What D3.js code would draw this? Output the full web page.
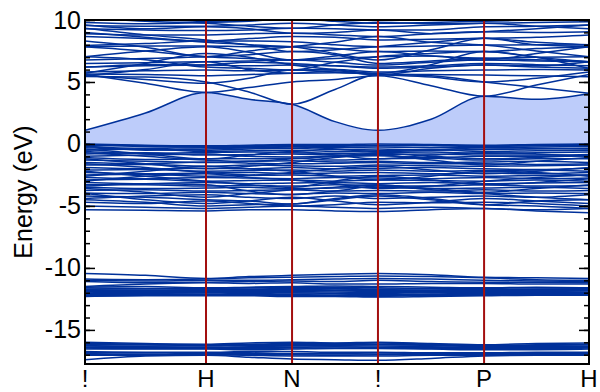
<!DOCTYPE html>
<html>
<head>
<meta charset="utf-8">
<script src="https://cdn.jsdelivr.net/npm/d3@7"></script>
<style>
  body { margin: 0; background: #fff; }
  text { font-family: "Liberation Sans", Arial, Helvetica, sans-serif; }
</style>
</head>
<body>
<svg id="chart" width="600" height="392"></svg>
<script>
// k-path: sample points (symmetry points + segment midpoints)
const kGrid = [0, 0.5, 1, 1.355, 1.711, 2.066, 2.421, 2.86, 3.298, 3.73, 4.165];
const kSym = [0, 1, 1.711, 2.421, 3.298, 4.165];
const kLabels = ["!", "H", "N", "!", "P", "H"];
const yTicks = [-15, -10, -5, 0, 5, 10];

// lowest conduction band (top edge of the gap fill)
const cbMin = [1.1, 2.5, 4.15, 3.6, 3.2, 1.8, 1.1, 2.0, 3.85, 3.6, 4.05];
// valence band maximum (bottom edge of the gap fill)
const vbMax = [0, -0.1, -0.15, -0.1, -0.05, -0.05, 0, -0.05, -0.1, -0.05, 0];

const conduction = [
  cbMin,
  [5.6, 4.9, 4.15, 4.55, 5.0, 5.2, 5.5, 4.7, 3.85, 4.75, 5.6],
  [5.45, 5.4, 5.0, 4.2, 3.2, 4.4, 5.6, 5.5, 5.0, 4.55, 4.1],
  [5.65, 5.6, 5.5, 5.6, 5.7, 5.75, 5.65, 5.6, 5.56, 5.5, 5.43],
  [5.8, 5.9, 5.96, 5.9, 5.96, 6.0, 5.8, 5.9, 5.96, 6.0, 5.96],
  [6.2, 6.3, 6.37, 6.3, 6.37, 6.3, 6.1, 6.2, 6.37, 6.2, 6.1],
  [6.5, 6.55, 6.64, 6.7, 6.77, 6.6, 6.37, 6.6, 6.77, 6.7, 6.64],
  [6.77, 6.9, 7.04, 7.2, 7.45, 7.2, 6.5, 6.7, 6.91, 7.0, 7.04],
  [7.04, 6.8, 6.2, 6.1, 5.96, 6.6, 7.04, 7.3, 7.45, 7.0, 6.1],
  [7.85, 7.9, 7.9, 7.85, 7.85, 7.7, 7.45, 7.5, 7.45, 7.7, 7.85],
  [7.95, 8.1, 8.3, 8.3, 8.25, 8.0, 7.85, 7.9, 7.98, 8.0, 7.98],
  [8.66, 8.5, 8.3, 8.5, 8.66, 8.6, 8.39, 8.45, 8.52, 8.6, 8.79],
  [8.9, 8.8, 8.8, 8.9, 8.93, 8.8, 8.66, 8.9, 9.06, 9.0, 9.06],
  [9.3, 9.2, 9.15, 9.2, 9.33, 9.3, 9.19, 9.2, 9.46, 9.5, 9.6],
  [9.55, 9.5, 9.5, 9.6, 9.73, 9.6, 9.46, 9.6, 9.73, 9.8, 9.86],
  [9.8, 9.7, 9.8, 9.9, 10.1, 9.9, 9.73, 9.8, 9.9, 10.0, 10.1],
  [10.4, 10.1, 9.9, 9.95, 10.2, 10.1, 9.95, 10.05, 10.1, 10.0, 9.95],
  [5.5, 6.0, 6.64, 6.0, 5.7, 5.9, 5.56, 6.1, 6.37, 6.3, 6.64],
  [7.04, 7.5, 7.85, 7.4, 6.77, 6.9, 7.04, 7.1, 6.77, 7.3, 7.85],
  [8.3, 7.8, 7.04, 7.5, 7.85, 8.2, 8.66, 8.2, 7.98, 7.5, 7.04],
  [9.0, 8.6, 8.2, 8.0, 7.45, 7.6, 7.85, 8.2, 8.52, 8.2, 8.0],
  [9.6, 9.3, 9.46, 9.3, 8.93, 9.0, 9.19, 8.9, 9.06, 9.3, 9.6],
  [10.2, 9.9, 9.73, 9.5, 9.33, 9.6, 9.8, 9.7, 9.73, 9.5, 9.3],
  [6.2, 6.4, 6.37, 6.6, 6.5, 6.3, 6.2, 6.3, 6.5, 6.4, 6.3],
  [7.85, 7.5, 7.04, 6.9, 6.77, 7.1, 7.45, 7.1, 6.91, 6.8, 6.64],
  [5.7, 6.5, 7.3, 7.0, 6.37, 6.0, 5.7, 6.4, 7.45, 7.0, 6.64],
  [9.33, 8.8, 8.39, 8.0, 7.85, 7.3, 6.77, 7.6, 8.52, 8.0, 7.85],
  [5.55, 5.2, 4.9, 5.3, 5.96, 5.8, 5.6, 5.4, 5.0, 5.3, 5.8]
];

const valence = [
  vbMax,
  [-0.1, -0.2, -0.25, -0.2, -0.15, -0.2, -0.1, -0.15, -0.2, -0.15, -0.1],
  [-0.2, -0.35, -0.3, -0.3, -0.25, -0.3, -0.25, -0.3, -0.3, -0.25, -0.2],
  [-0.3, -0.45, -0.5, -0.4, -0.35, -0.45, -0.4, -0.5, -0.45, -0.4, -0.35],
  [-0.5, -0.4, -0.6, -0.55, -0.5, -0.6, -0.55, -0.45, -0.6, -0.55, -0.5],
  [-0.6, -0.75, -0.7, -0.65, -0.7, -0.75, -0.7, -0.65, -0.75, -0.7, -0.65],
  [-0.8, -0.7, -0.9, -0.85, -0.8, -0.9, -0.85, -0.8, -0.9, -0.9, -0.85],
  [-1.0, -0.9, -0.8, -1.0, -1.05, -1.0, -0.95, -1.1, -1.0, -1.0, -0.95],
  [-1.1, -1.25, -1.2, -1.2, -1.15, -1.3, -1.2, -1.15, -1.3, -1.2, -1.2],
  [-1.3, -1.4, -1.5, -1.4, -1.35, -1.45, -1.4, -1.5, -1.45, -1.4, -1.5],
  [-1.5, -1.6, -1.45, -1.55, -1.6, -1.55, -1.5, -1.6, -1.6, -1.65, -1.6],
  [-1.7, -1.65, -1.8, -1.7, -1.75, -1.8, -1.7, -1.75, -1.8, -1.75, -1.7],
  [-1.9, -2.0, -1.95, -2.0, -1.9, -2.0, -1.95, -1.9, -2.0, -2.05, -1.95],
  [-2.1, -2.05, -2.2, -2.15, -2.1, -2.2, -2.1, -2.2, -2.15, -2.1, -2.2],
  [-2.3, -2.4, -2.35, -2.3, -2.4, -2.35, -2.3, -2.4, -2.35, -2.4, -2.3],
  [-2.5, -2.45, -2.6, -2.55, -2.5, -2.6, -2.55, -2.5, -2.6, -2.55, -2.5],
  [-2.7, -2.8, -2.7, -2.75, -2.8, -2.7, -2.75, -2.8, -2.7, -2.8, -2.75],
  [-2.9, -2.85, -3.0, -2.95, -2.9, -3.0, -2.9, -2.95, -3.0, -2.9, -3.0],
  [-3.1, -3.2, -3.1, -3.2, -3.15, -3.1, -3.2, -3.1, -3.2, -3.15, -3.1],
  [-3.3, -3.3, -3.4, -3.35, -3.4, -3.3, -3.35, -3.4, -3.3, -3.4, -3.35],
  [-3.5, -3.6, -3.55, -3.5, -3.6, -3.55, -3.5, -3.6, -3.55, -3.5, -3.6],
  [-3.75, -3.7, -3.8, -3.75, -3.7, -3.8, -3.75, -3.8, -3.7, -3.8, -3.75],
  [-3.95, -4.0, -3.9, -4.0, -4.05, -3.95, -4.0, -3.9, -4.0, -3.95, -4.0],
  [-4.2, -4.3, -4.5, -4.6, -4.85, -4.5, -4.2, -4.5, -4.9, -4.6, -4.5],
  [-4.5, -4.7, -5.0, -4.9, -4.85, -4.4, -4.1, -4.4, -4.9, -5.0, -5.2],
  [-5.0, -5.1, -5.2, -5.1, -5.0, -5.1, -5.2, -5.1, -5.2, -5.3, -5.2],
  [-5.3, -5.35, -5.4, -5.3, -5.3, -5.4, -5.45, -5.3, -5.2, -5.4, -5.55],
  [-4.4, -4.2, -4.1, -4.3, -4.4, -4.2, -4.4, -4.3, -4.2, -4.3, -4.1],
  [-1.2, -1.6, -2.0, -1.8, -1.5, -1.1, -0.9, -1.3, -1.7, -1.4, -1.1],
  [-2.2, -2.6, -3.0, -3.3, -3.5, -3.0, -2.6, -2.9, -3.3, -3.1, -2.8],
  [-3.0, -2.6, -2.4, -2.7, -2.9, -3.2, -3.6, -3.4, -3.0, -2.7, -2.5],
  [-0.4, -0.8, -1.2, -0.9, -0.6, -0.9, -1.2, -0.9, -0.7, -0.8, -1.0],
  [-3.6, -3.9, -4.3, -4.0, -3.7, -3.5, -3.3, -3.7, -4.0, -4.3, -4.5],
  [-0.15, -0.5, -0.4, -0.3, -0.2, -0.4, -0.6, -0.5, -0.3, -0.35, -0.4],
  [-0.7, -1.0, -1.3, -1.4, -1.2, -1.0, -0.75, -1.0, -1.2, -1.1, -0.9],
  [-4.7, -4.8, -4.6, -4.8, -5.0, -4.9, -4.7, -4.75, -4.7, -4.8, -5.0],
  [-0.05, -0.15, -0.2, -0.15, -0.1, -0.15, -0.15, -0.1, -0.15, -0.1, -0.05],
  [-1.6, -1.9, -2.3, -2.5, -2.3, -2.0, -1.8, -2.1, -2.4, -2.2, -1.9],
  [-2.6, -2.2, -1.8, -2.0, -2.2, -2.6, -2.9, -2.6, -2.2, -2.3, -2.6],
  [-3.4, -3.2, -3.3, -3.8, -4.1, -3.8, -3.4, -3.6, -3.9, -3.6, -3.3],
  [-4.0, -4.5, -4.8, -4.6, -4.3, -4.6, -4.9, -4.7, -4.4, -4.6, -4.8]
];

const semicore = [
  [-10.45, -10.6, -10.85, -10.7, -10.6, -10.5, -10.45, -10.55, -10.75, -10.8, -10.85],
  [-10.9, -10.95, -10.9, -10.8, -10.75, -10.7, -10.65, -10.7, -10.8, -10.95, -11.0],
  [-11.0, -11.05, -11.0, -11.0, -10.95, -10.9, -10.85, -10.9, -11.0, -11.05, -11.1],
  [-11.1, -11.2, -11.15, -11.1, -11.05, -11.1, -11.0, -11.1, -11.15, -11.15, -11.2],
  [-11.5, -11.3, -11.2, -11.25, -11.2, -11.3, -11.3, -11.25, -11.25, -11.3, -11.3],
  [-11.55, -11.5, -11.6, -11.55, -11.5, -11.45, -11.5, -11.55, -11.6, -11.55, -11.6],
  [-11.6, -11.65, -11.65, -11.6, -11.6, -11.55, -11.6, -11.65, -11.65, -11.6, -11.65],
  [-11.7, -11.7, -11.7, -11.7, -11.65, -11.65, -11.7, -11.7, -11.75, -11.7, -11.7],
  [-11.75, -11.8, -11.75, -11.75, -11.75, -11.7, -11.75, -11.8, -11.8, -11.75, -11.75],
  [-11.85, -11.85, -11.8, -11.8, -11.8, -11.8, -11.85, -11.85, -11.85, -11.8, -11.8],
  [-11.9, -11.9, -11.9, -11.9, -11.9, -11.85, -11.9, -11.9, -11.9, -11.9, -11.85],
  [-11.95, -12.0, -11.95, -11.95, -11.95, -11.95, -12.0, -11.95, -11.95, -11.95, -11.95],
  [-12.05, -12.05, -12.0, -12.0, -12.0, -12.05, -12.05, -12.0, -12.0, -12.0, -12.0],
  [-12.1, -12.1, -12.1, -12.05, -12.1, -12.1, -12.15, -12.1, -12.05, -12.05, -12.05],
  [-12.15, -12.15, -12.15, -12.15, -12.15, -12.2, -12.2, -12.15, -12.15, -12.1, -12.1],
  [-12.25, -12.2, -12.2, -12.2, -12.2, -12.25, -12.3, -12.2, -12.2, -12.15, -12.15],
  [-12.3, -12.25, -12.25, -12.25, -12.3, -12.3, -12.35, -12.3, -12.25, -12.2, -12.2]
];

const core = [
  [-16.0, -16.1, -16.15, -16.05, -16.0, -16.05, -16.0, -16.1, -16.2, -16.1, -16.05],
  [-16.1, -16.15, -16.2, -16.15, -16.1, -16.1, -16.05, -16.15, -16.25, -16.2, -16.15],
  [-16.15, -16.2, -16.25, -16.2, -16.2, -16.15, -16.15, -16.2, -16.3, -16.25, -16.2],
  [-16.25, -16.3, -16.3, -16.25, -16.25, -16.25, -16.2, -16.25, -16.35, -16.3, -16.3],
  [-16.3, -16.35, -16.4, -16.35, -16.3, -16.3, -16.3, -16.35, -16.4, -16.35, -16.35],
  [-16.4, -16.4, -16.45, -16.4, -16.4, -16.35, -16.4, -16.4, -16.45, -16.4, -16.4],
  [-16.45, -16.5, -16.5, -16.5, -16.45, -16.45, -16.45, -16.5, -16.5, -16.5, -16.45],
  [-16.55, -16.55, -16.55, -16.6, -16.55, -16.5, -16.5, -16.55, -16.6, -16.6, -16.55],
  [-16.75, -16.8, -16.8, -16.75, -16.75, -16.8, -16.8, -16.85, -16.85, -16.8, -16.8],
  [-16.85, -16.85, -16.85, -16.85, -16.9, -16.9, -16.85, -16.9, -16.9, -16.85, -16.85],
  [-16.9, -16.95, -16.9, -16.9, -16.95, -16.95, -16.95, -16.95, -16.95, -16.9, -16.9],
  [-17.0, -17.0, -16.95, -17.0, -17.0, -17.05, -17.0, -17.0, -17.0, -16.95, -16.95],
  [-17.05, -17.05, -17.0, -17.05, -17.1, -17.1, -17.1, -17.05, -17.05, -17.0, -17.0],
  [-17.4, -17.1, -17.05, -17.2, -17.35, -17.4, -17.45, -17.3, -17.1, -17.05, -17.05]
];

const bands = conduction.concat(valence, semicore, core);

const svg = d3.select("#chart");
const margin = {top: 20, right: 11, bottom: 28, left: 85};
const width = 600 - margin.left - margin.right;
const height = 392 - margin.top - margin.bottom;

const x = d3.scaleLinear().domain([0, kGrid[kGrid.length - 1]]).range([0, width]);
const y = d3.scaleLinear().domain([-17.75, 10]).range([height, 0]);

const g = svg.append("g").attr("transform", `translate(${margin.left},${margin.top})`);

g.append("clipPath").attr("id", "clip")
    .append("rect").attr("width", width).attr("height", height);

const plot = g.append("g").attr("clip-path", "url(#clip)");

// gap fill between valence top and conduction bottom
const gap = d3.area()
    .x((d, i) => x(kGrid[i]))
    .y0((d, i) => y(vbMax[i]))
    .y1(d => y(d))
    .curve(d3.curveMonotoneX);

plot.append("path")
    .datum(cbMin)
    .attr("d", gap)
    .attr("fill", "#bdccfa");

const line = d3.line()
    .x((d, i) => x(kGrid[i]))
    .y(d => y(d))
    .curve(d3.curveMonotoneX);

plot.selectAll(".band")
    .data(bands)
    .enter()
    .append("path")
    .attr("class", "band")
    .attr("d", line)
    .attr("fill", "none")
    .attr("stroke", "#00319a")
    .attr("stroke-width", 1.5);

// high-symmetry lines
plot.selectAll(".sym")
    .data(kSym.slice(1, -1))
    .enter()
    .append("line")
    .attr("x1", d => x(d))
    .attr("x2", d => x(d))
    .attr("y1", 0)
    .attr("y2", height)
    .attr("stroke", "#a30f0f")
    .attr("stroke-width", 2);

// axes: inward ticks on both sides
const minor = d3.range(-17, 11);
g.append("g")
    .call(d3.axisLeft(y).tickValues(minor).tickSize(-5).tickFormat(""))
    .call(a => a.select(".domain").remove());
g.append("g")
    .attr("transform", `translate(${width},0)`)
    .call(d3.axisRight(y).tickValues(minor).tickSize(-5).tickFormat(""))
    .call(a => a.select(".domain").remove());
g.append("g")
    .attr("transform", `translate(${width},0)`)
    .call(d3.axisRight(y).tickValues(yTicks).tickSize(-10).tickFormat(""))
    .call(a => a.select(".domain").remove());

const left = g.append("g")
    .call(d3.axisLeft(y).tickValues(yTicks).tickSize(-10).tickPadding(5).tickFormat(d => String(d)));
left.select(".domain").remove();
left.selectAll("text")
    .attr("x", -4)
    .style("font-size", "25px")
    .attr("fill", "#000");

g.selectAll(".tick line").attr("stroke", "#000").attr("stroke-width", 1.5);

// frame
g.append("rect")
    .attr("width", width)
    .attr("height", height)
    .attr("fill", "none")
    .attr("stroke", "#000")
    .attr("stroke-width", 2);

// k-point labels
g.selectAll(".klabel")
    .data(kSym)
    .enter()
    .append("text")
    .attr("x", d => x(d))
    .attr("y", height + 23)
    .attr("text-anchor", "middle")
    .style("font-size", "24px")
    .text((d, i) => kLabels[i]);

svg.append("text")
    .attr("transform", "translate(32,192) rotate(-90)")
    .attr("text-anchor", "middle")
    .style("font-size", "25px")
    .text("Energy (eV)");
</script>
</body>
</html>
